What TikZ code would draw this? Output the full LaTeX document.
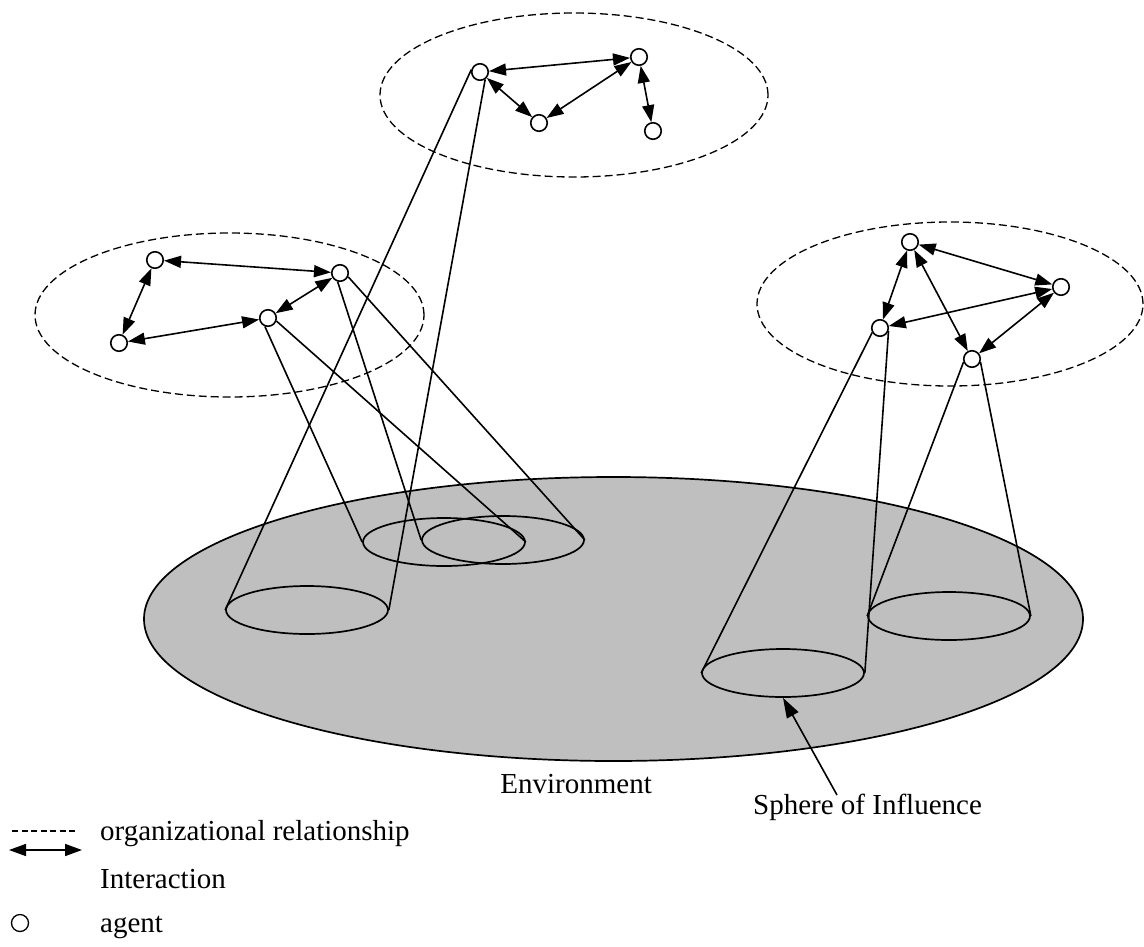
\documentclass[tikz,border=0pt]{standalone}
\usepackage{fontspec}
\setmainfont{Liberation Serif}
\usetikzlibrary{arrows.meta,shapes.geometric}
\tikzset{
  agent/.style={circle,draw,fill=white,line width=1.6pt,minimum size=16.5pt,inner sep=0pt},
  orgrel/.style={ellipse,draw,dash pattern=on 8pt off 4pt,line width=1.3pt,inner sep=0pt},
  sphere/.style={ellipse,draw,line width=1.7pt,inner sep=0pt,minimum width=162pt,minimum height=48pt},
  inter/.style={{Triangle[length=17pt,width=12pt]}-{Triangle[length=17pt,width=12pt]},line width=1.6pt},
  cone/.style={line width=1.6pt},
  lbl/.style={inner sep=0pt,font=\fontsize{29}{34}\selectfont}
}
\begin{document}
\begin{tikzpicture}[x=1pt,y=-1pt]
\useasboundingbox (0,0) rectangle (1144,946);
% environment
\node[ellipse,draw,fill=black!25,line width=1.7pt,inner sep=0pt,minimum width=939pt,minimum height=284pt] (env) at (613.5,619) {};
% spheres of influence
\node[sphere] (e1) at (307,610) {};
\node[sphere] (e2) at (444,542) {};
\node[sphere] (e3) at (503,540) {};
\node[sphere] (e4) at (783,673) {};
\node[sphere] (e5) at (949,616) {};
% organizational relationships
\node[orgrel,minimum width=388pt,minimum height=164pt] (org1) at (574,95) {};
\node[orgrel,minimum width=389pt,minimum height=164pt] (org2) at (229.5,315) {};
\node[orgrel,minimum width=386pt,minimum height=164pt] (org3) at (950,304) {};
% agents
\node[agent] (a1) at (480,72) {};
\node[agent] (a2) at (639,57) {};
\node[agent] (a3) at (539,123) {};
\node[agent] (a4) at (653,131) {};
\node[agent] (b1) at (155,260) {};
\node[agent] (b2) at (340,273) {};
\node[agent] (b3) at (268,318) {};
\node[agent] (b4) at (119,343) {};
\node[agent] (c1) at (910,242) {};
\node[agent] (c2) at (1061,287) {};
\node[agent] (c3) at (880,328) {};
\node[agent] (c4) at (972,359) {};
% cones
\draw[cone] (a1.165) -- (e1.west);
\draw[cone] (a1.-55) -- (e1.east);
\draw[cone] (b2.-105) -- (e3.west);
\draw[cone] (b2.-25) -- (e3.east);
\draw[cone] (b3.-110) -- (e2.west);
\draw[cone] (b3.-20) -- (e2.east);
\draw[cone] (c3.-150) -- (e4.west);
\draw[cone] (c3.-20) -- (e4.east);
\draw[cone] (c4.-160) -- (e5.west);
\draw[cone] (c4.-20) -- (e5.east);
% interactions
\draw[inter] (a1) -- (a2);
\draw[inter] (a1) -- (a3);
\draw[inter] (a3) -- (a2);
\draw[inter] (a2) -- (a4);
\draw[inter] (b1) -- (b2);
\draw[inter] (b1) -- (b4);
\draw[inter] (b4) -- (b3);
\draw[inter] (b3) -- (b2);
\draw[inter] (c1) -- (c3);
\draw[inter] (c1) -- (c4);
\draw[inter] (c1) -- (c2);
\draw[inter] (c3) -- (c2);
\draw[inter] (c4) -- (c2);
% labels
\node[lbl,anchor=base east] (envlbl) at (652,793) {Environment};
\node[lbl,anchor=base west] (sphlbl) at (753,814) {Sphere of Influence};
\coordinate (sphtip) at (837,795);
\draw[-{Triangle[length=20pt,width=13pt]},line width=1.6pt] (sphtip) -- (e4.south);
% legend
\coordinate (ld1) at (12,831);
\coordinate (ld2) at (78,831);
\draw[dash pattern=on 6pt off 3.5pt,line width=1.3pt] (ld1) -- (ld2);
\coordinate (la1) at (9,850);
\coordinate (la2) at (82,850);
\draw[inter] (la1) -- (la2);
\node[lbl,anchor=base west] (leg1) at (100,840) {organizational relationship};
\node[lbl,anchor=base west] (leg2) at (100,888) {Interaction};
\node[circle,draw,line width=1.3pt,minimum size=17pt,inner sep=0pt] (legag) at (20,923) {};
\node[lbl,anchor=base west] (leg3) at (100,932) {agent};
\end{tikzpicture}
\end{document}
